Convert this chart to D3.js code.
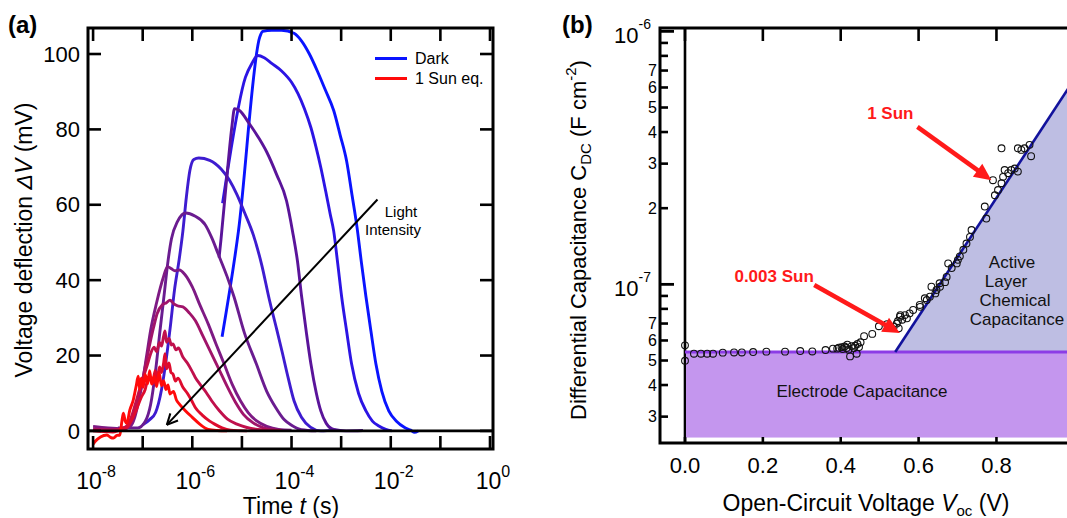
<!DOCTYPE html>
<html>
<head>
<meta charset="utf-8">
<script src="https://cdn.jsdelivr.net/npm/d3@7"></script>
<style>
  body { margin: 0; background: #fff; }
  svg { display: block; font-family: "Liberation Sans", Arial, sans-serif; }
</style>
</head>
<body>
<svg id="chart" width="1067" height="518"></svg>
<script>
// ---- (a) voltage transients: [log10 t (s), deltaV (mV)], dark first, then brighter ----
var traceDark = [[-5.40,25],[-5.07,53],[-4.64,104.5],[-4.58,106],[-4.40,106.3],[-4.20,106.3],[-3.95,105.5],[-3.80,103.5],[-3.64,100],[-3.48,95.5],[-3.32,90.5],[-3.15,85],[-3.02,78.5],[-2.89,71.6],[-2.78,62.5],[-2.68,54],[-2.59,44.5],[-2.50,35.6],[-2.40,26.5],[-2.30,17.8],[-2.18,10.5],[-2.04,5.3],[-1.88,2.5],[-1.72,0.9],[-1.60,0.2],[-1.52,-0.4],[-1.45,0]];
var traceB = [[-5.39,60.4],[-5.29,69],[-4.93,93.8],[-4.80,97.5],[-4.68,99.6],[-4.55,99],[-4.40,97.5],[-4.20,95.5],[-4.00,92.5],[-3.87,89.5],[-3.74,85.5],[-3.61,80.5],[-3.51,75.5],[-3.41,69.9],[-3.31,63.5],[-3.22,57.5],[-3.15,53],[-3.07,44.5],[-2.99,35.6],[-2.89,26.5],[-2.79,17.8],[-2.65,10],[-2.50,5.3],[-2.37,2.6],[-2.24,1.3],[-2.10,0.4],[-1.98,0]];
var traceC = [[-7.00,1.6],[-6.86,3],[-6.74,4.9],[-6.62,11],[-6.52,19.6],[-6.44,28],[-6.36,37.3],[-6.27,45],[-6.19,53],[-6.12,62],[-6.05,69],[-5.97,72],[-5.87,72.4],[-5.65,71.8],[-5.42,69.5],[-5.25,66.5],[-5.10,62.7],[-4.95,58],[-4.77,52],[-4.60,44],[-4.45,35],[-4.30,27],[-4.19,21],[-4.07,14.2],[-3.95,8],[-3.80,3.6],[-3.62,1],[-3.41,0],[-3.10,0.2]];
var traceD = [[-5.46,46],[-5.42,51],[-5.30,68],[-5.20,81],[-5.15,85.5],[-5.05,85],[-4.85,81.5],[-4.65,77.5],[-4.50,74],[-4.30,68],[-4.10,61],[-3.98,53],[-3.88,45],[-3.80,36],[-3.70,26],[-3.61,17.8],[-3.50,10],[-3.41,5.3],[-3.30,2],[-3.15,0.4],[-2.90,0],[-2.56,0.1]];
var traceE = [[-7.50,0.8],[-7.10,0.8],[-6.95,2.5],[-6.84,7],[-6.74,16],[-6.65,26.7],[-6.56,37],[-6.50,44],[-6.42,51],[-6.30,55.5],[-6.13,57.8],[-5.95,57],[-5.74,54.7],[-5.60,51],[-5.48,47],[-5.30,41],[-5.16,35.6],[-4.95,26],[-4.71,17.8],[-4.50,10.5],[-4.32,6.2],[-4.15,3],[-4.00,1.5],[-3.80,0.3],[-3.50,0]];
var traceF = [[-8.00,1.2],[-7.70,0.8],[-7.40,0.6],[-7.25,1.2],[-7.16,3.6],[-7.08,8],[-7.00,13.3],[-6.92,20],[-6.84,26.7],[-6.72,34],[-6.58,40.9],[-6.50,43.6],[-6.42,43],[-6.35,42.5],[-6.26,42.7],[-6.15,41.5],[-6.00,38.2],[-5.85,33.5],[-5.68,28.4],[-5.52,23],[-5.36,17.8],[-5.20,12.5],[-5.03,8],[-4.87,4.8],[-4.71,2.7],[-4.50,1.2],[-4.26,0.4],[-4.00,0.2]];
var traceG = [[-8.00,0.5],[-7.60,0.3],[-7.35,0.5],[-7.19,3.6],[-7.10,7.5],[-7.03,11.6],[-6.95,17],[-6.87,22.2],[-6.78,27.5],[-6.71,31.1],[-6.60,33.5],[-6.52,34],[-6.45,34.7],[-6.38,33.8],[-6.30,33.2],[-6.19,32.9],[-6.06,31.3],[-5.94,29.3],[-5.78,25],[-5.61,20.4],[-5.45,16],[-5.29,11.6],[-5.13,7.6],[-4.97,4.4],[-4.78,2.2],[-4.58,0.9],[-4.30,0.2]];
var traceH = [[-8.00,0.2],[-7.60,0.2],[-7.35,1],[-7.23,3.6],[-7.15,7],[-7.07,10.7],[-6.98,14.5],[-6.90,17.8],[-6.84,20.5],[-6.77,22.2],[-6.72,21],[-6.66,23.5],[-6.62,22.5],[-6.58,25],[-6.55,26.5],[-6.52,23.5],[-6.47,24.5],[-6.42,22.8],[-6.39,23.1],[-6.33,21.5],[-6.28,22],[-6.19,19.6],[-6.10,18],[-6.02,16.2],[-5.94,14.2],[-5.84,12.3],[-5.72,10.2],[-5.61,8],[-5.45,5.3],[-5.29,3.1],[-5.10,1.8],[-4.90,0.9],[-4.60,0.3],[-4.20,0.1]];
var traceI = [[-8.00,0],[-7.60,-0.3],[-7.40,0.5],[-7.30,1.2],[-7.23,2.7],[-7.13,5.5],[-7.03,8.9],[-6.95,11],[-6.90,13.5],[-6.84,14.2],[-6.80,12.5],[-6.75,16],[-6.71,14],[-6.66,17],[-6.62,15.5],[-6.58,17.8],[-6.55,20.5],[-6.52,16.5],[-6.47,18],[-6.43,15.5],[-6.39,15.1],[-6.34,13.2],[-6.29,14],[-6.19,11.6],[-6.10,10],[-6.02,8.2],[-5.94,6.2],[-5.80,4.2],[-5.65,2.6],[-5.55,1.8],[-5.40,0.8],[-5.23,0.2],[-4.90,0]];
var traceSun = [[-8.00,-3.5],[-7.96,-2.8],[-7.85,-1.6],[-7.72,-1.1],[-7.65,-1.7],[-7.59,-1.9],[-7.52,-1.2],[-7.46,-1.1],[-7.42,2.5],[-7.39,4.7],[-7.35,2.5],[-7.32,2],[-7.26,5.5],[-7.19,8.2],[-7.13,12],[-7.09,14.5],[-7.06,11],[-7.03,14],[-6.99,11.6],[-6.95,15],[-6.90,12.5],[-6.86,16],[-6.82,12.4],[-6.77,14.5],[-6.72,11.8],[-6.67,15.5],[-6.62,12],[-6.58,13.3],[-6.53,11],[-6.49,12.2],[-6.45,9.8],[-6.38,10.5],[-6.32,8.2],[-6.26,7.1],[-6.15,5.5],[-6.00,3.6],[-5.85,1.8],[-5.68,0.4],[-5.50,0.1],[-5.30,0]];

var traces = [traceDark, traceB, traceC, traceD, traceE, traceF, traceG, traceH, traceI, traceSun];
var traceColors = ['#0a14ff', '#2c14e4', '#3e1cd0', '#5a149a', '#6a1c90', '#7e1a84', '#a0146a', '#c0104c', '#de0c2e', '#ff0a0a'];
var legendNames = ['Dark', '1 Sun eq.'];

var timeTicks = [1e-8, 1e-7, 1e-6, 1e-5, 1e-4, 1e-3, 1e-2, 1e-1, 1];
var timeLabelled = [1e-8, 1e-6, 1e-4, 1e-2, 1];
var mvTicks = [0, 20, 40, 60, 80, 100];

// ---- (b) capacitance vs Voc ----
var voc = [0.000,0.000,0.023,0.041,0.057,0.072,0.097,0.126,0.146,0.175,0.209,0.257,0.296,0.327,0.361,0.380,0.391,0.395,0.402,0.405,0.410,0.415,0.417,0.420,0.424,0.428,0.434,0.437,0.441,0.443,0.447,0.451,0.460,0.481,0.498,0.519,0.536,0.544,0.547,0.549,0.552,0.553,0.558,0.565,0.570,0.577,0.586,0.603,0.604,0.616,0.621,0.629,0.633,0.643,0.646,0.654,0.655,0.668,0.672,0.676,0.685,0.698,0.701,0.706,0.715,0.723,0.732,0.736,0.770,0.774,0.791,0.796,0.804,0.813,0.817,0.821,0.830,0.838,0.847,0.855,0.813,0.855,0.864,0.872,0.885,0.889];
var cap = [5.74e-8,4.99e-8,5.32e-8,5.32e-8,5.32e-8,5.32e-8,5.37e-8,5.38e-8,5.38e-8,5.40e-8,5.42e-8,5.42e-8,5.45e-8,5.43e-8,5.50e-8,5.57e-8,5.57e-8,5.62e-8,5.64e-8,5.55e-8,5.68e-8,5.60e-8,5.78e-8,5.52e-8,5.19e-8,5.70e-8,5.60e-8,5.72e-8,5.32e-8,5.81e-8,5.65e-8,5.90e-8,6.24e-8,6.37e-8,6.83e-8,6.96e-8,6.80e-8,7.00e-8,7.16e-8,6.70e-8,7.45e-8,7.56e-8,7.25e-8,7.56e-8,7.34e-8,7.68e-8,7.92e-8,8.29e-8,8.15e-8,8.81e-8,8.67e-8,8.94e-8,9.79e-8,9.21e-8,9.50e-8,1.01e-7,9.78e-8,1.02e-7,1.07e-7,1.21e-7,1.16e-7,1.21e-7,1.25e-7,1.29e-7,1.37e-7,1.45e-7,1.54e-7,1.64e-7,2.03e-7,1.82e-7,2.58e-7,2.25e-7,2.36e-7,2.51e-7,2.66e-7,2.83e-7,2.75e-7,2.83e-7,2.87e-7,2.79e-7,3.45e-7,3.45e-7,3.40e-7,3.45e-7,3.56e-7,3.21e-7];

var electrodeCap = 5.4e-8;        // flat geometric capacitance
var electrodeFloor = 2.48e-8;     // bottom of shaded band
var activeLine = [[0.54, 5.4e-8], [1.03, 7.6e-7]];  // chemical capacitance fit
var vocTicks = [0, 0.2, 0.4, 0.6, 0.8, 1.0];
var vocLabels = ['0.0', '0.2', '0.4', '0.6', '0.8'];
var capMajor = [1e-7, 1e-6];
var capMinor = [3e-8,4e-8,5e-8,6e-8,7e-8,8e-8,9e-8,2e-7,3e-7,4e-7,5e-7,6e-7,7e-7,8e-7,9e-7];
var capMinorText = ['3','4','5','6','7','','','2','3','4','5','6','7','',''];

var svg = d3.select('#chart');
svg.append('rect').attr('width', 1067).attr('height', 518).attr('fill', '#fff');

function tenPow(sel, exp, big, small, raise) {
  sel.append('tspan').attr('font-size', big).text('10');
  sel.append('tspan').attr('font-size', small).attr('dy', -raise).text(exp);
}

function redArrow(g, x1, y1, x2, y2) {
  var a = Math.atan2(y2 - y1, x2 - x1);
  var len = 17, half = 8;
  var bx = x2 - len * Math.cos(a), by = y2 - len * Math.sin(a);
  g.append('line')
    .attr('x1', x1).attr('y1', y1).attr('x2', bx + 2 * Math.cos(a)).attr('y2', by + 2 * Math.sin(a))
    .attr('stroke', '#ff1a1a').attr('stroke-width', 4.5);
  g.append('path')
    .attr('d', 'M' + x2 + ',' + y2 +
      'L' + (bx + half * Math.sin(a)) + ',' + (by - half * Math.cos(a)) +
      'L' + (bx - half * Math.sin(a)) + ',' + (by + half * Math.cos(a)) + 'Z')
    .attr('fill', '#ff1a1a');
}

// ================= PANEL (a) =================
var xa = d3.scaleLog().domain([7.9e-9, 1.15]).range([88, 493]);
var ya = d3.scaleLinear().domain([-4.8, 106.9]).range([449, 28]);
var ga = svg.append('g');

var lineA = d3.line()
  .x(function(d) { return xa(Math.pow(10, d[0])); })
  .y(function(d) { return ya(d[1]); })
  .curve(d3.curveMonotoneX);

traces.forEach(function(tr, i) {
  ga.append('path')
    .datum(tr)
    .attr('d', lineA)
    .attr('fill', 'none')
    .attr('stroke', traceColors[i])
    .attr('stroke-width', 2.9)
    .attr('stroke-linejoin', 'round');
});

// zero line + frame
ga.append('line')
  .attr('x1', xa.range()[0]).attr('x2', xa.range()[1])
  .attr('y1', ya(0)).attr('y2', ya(0))
  .attr('stroke', '#000').attr('stroke-width', 2.6);
ga.append('rect')
  .attr('x', xa.range()[0]).attr('y', ya.range()[1])
  .attr('width', xa.range()[1] - xa.range()[0])
  .attr('height', ya.range()[0] - ya.range()[1])
  .attr('fill', 'none').attr('stroke', '#000').attr('stroke-width', 3);

timeTicks.forEach(function(t) {
  var px = xa(t);
  ga.append('line').attr('x1', px).attr('x2', px)
    .attr('y1', ya.range()[0]).attr('y2', ya.range()[0] - 13)
    .attr('stroke', '#000').attr('stroke-width', 2.6);
  ga.append('line').attr('x1', px).attr('x2', px)
    .attr('y1', ya.range()[1]).attr('y2', ya.range()[1] + 13)
    .attr('stroke', '#000').attr('stroke-width', 2.6);
});

timeLabelled.forEach(function(t) {
  var lbl = ga.append('text')
    .attr('x', xa(t) + 3).attr('y', 489)
    .attr('text-anchor', 'middle');
  tenPow(lbl, Math.round(Math.log10(t)), 23, 16, 12);
});

mvTicks.forEach(function(v) {
  var py = ya(v);
  ga.append('line').attr('x1', xa.range()[0]).attr('x2', xa.range()[0] + 13)
    .attr('y1', py).attr('y2', py).attr('stroke', '#000').attr('stroke-width', 2.6);
  ga.append('line').attr('x1', xa.range()[1]).attr('x2', xa.range()[1] - 13)
    .attr('y1', py).attr('y2', py).attr('stroke', '#000').attr('stroke-width', 2.6);
  ga.append('text')
    .attr('x', 80).attr('y', py).attr('dy', '0.35em')
    .attr('text-anchor', 'end').attr('font-size', 22)
    .text(v);
});

// legend
[0, 1].forEach(function(i) {
  var ly = 58.5 + i * 20;
  ga.append('line').attr('x1', 375).attr('x2', 407).attr('y1', ly).attr('y2', ly)
    .attr('stroke', i === 0 ? traceColors[0] : traceColors[9]).attr('stroke-width', 3);
  ga.append('text').attr('x', 415).attr('y', ly).attr('dy', '0.36em')
    .attr('font-size', 16).text(legendNames[i]);
});

// light intensity arrow
var arFrom = [xa(5.4e-3), ya(61.4)], arTo = [xa(3.06e-7), ya(1.6)];
ga.append('line')
  .attr('x1', arFrom[0]).attr('y1', arFrom[1]).attr('x2', arTo[0]).attr('y2', arTo[1])
  .attr('stroke', '#000').attr('stroke-width', 2);
(function() {
  var a = Math.atan2(arTo[1] - arFrom[1], arTo[0] - arFrom[0]);
  var l = 12;
  [0.45, -0.45].forEach(function(s) {
    ga.append('line')
      .attr('x1', arTo[0]).attr('y1', arTo[1])
      .attr('x2', arTo[0] - l * Math.cos(a + s)).attr('y2', arTo[1] - l * Math.sin(a + s))
      .attr('stroke', '#000').attr('stroke-width', 2);
  });
})();
ga.append('text').attr('x', 401).attr('y', 217).attr('text-anchor', 'middle')
  .attr('font-size', 15).text('Light');
ga.append('text').attr('x', 393).attr('y', 235).attr('text-anchor', 'middle')
  .attr('font-size', 15).text('Intensity');

// axis titles
var ta = ga.append('text')
  .attr('transform', 'translate(32,240) rotate(-90)')
  .attr('text-anchor', 'middle').attr('font-size', 23);
ta.append('tspan').text('Voltage deflection ');
ta.append('tspan').attr('font-style', 'italic').text('\u0394V');
ta.append('tspan').text(' (mV)');

var tx = ga.append('text')
  .attr('x', 291).attr('y', 514)
  .attr('text-anchor', 'middle').attr('font-size', 23);
tx.append('tspan').text('Time ');
tx.append('tspan').attr('font-style', 'italic').text('t');
tx.append('tspan').text(' (s)');

ga.append('text').attr('x', 8).attr('y', 33)
  .attr('font-size', 24).attr('font-weight', 'bold').text('(a)');

// ================= PANEL (b) =================
var xb = d3.scaleLinear().domain([-0.0642, 1.03]).range([660, 1086]);
var yb = d3.scaleLog().domain([2.36e-8, 1.031e-6]).range([443, 28]);
var gb = svg.append('g');

// V = 0 line
gb.append('line')
  .attr('x1', xb(0)).attr('x2', xb(0))
  .attr('y1', yb.range()[1]).attr('y2', yb.range()[0])
  .attr('stroke', '#000').attr('stroke-width', 2.6);

// electrode capacitance band
gb.append('rect')
  .attr('x', xb(0) + 1)
  .attr('y', yb(electrodeCap))
  .attr('width', xb(1.03) - xb(0))
  .attr('height', yb(electrodeFloor) - yb(electrodeCap))
  .attr('fill', '#c496ee');

// active layer chemical capacitance region
var areaB = d3.area()
  .x(function(d) { return xb(d[0]); })
  .y0(yb(electrodeCap))
  .y1(function(d) { return yb(d[1]); });
gb.append('path').datum(activeLine).attr('d', areaB).attr('fill', '#bebee3');

gb.append('line')
  .attr('x1', xb(0)).attr('x2', xb(1.03))
  .attr('y1', yb(electrodeCap)).attr('y2', yb(electrodeCap))
  .attr('stroke', '#8c3ce6').attr('stroke-width', 3);

var lineB = d3.line()
  .x(function(d) { return xb(d[0]); })
  .y(function(d) { return yb(d[1]); });
gb.append('path').datum(activeLine).attr('d', lineB)
  .attr('fill', 'none').attr('stroke', '#12129c').attr('stroke-width', 2.6);

// data points
gb.append('g')
  .selectAll('circle')
  .data(voc.map(function(v, i) { return [v, cap[i]]; }))
  .join('circle')
  .attr('cx', function(d) { return xb(d[0]); })
  .attr('cy', function(d) { return yb(d[1]); })
  .attr('r', 3.4)
  .attr('fill', 'none')
  .attr('stroke', '#111')
  .attr('stroke-width', 1.1);

// frame (right side is off the picture)
gb.append('path')
  .attr('d', 'M' + xb.range()[1] + ',' + yb.range()[1] +
    'H' + xb.range()[0] + 'V' + yb.range()[0] + 'H' + xb.range()[1])
  .attr('fill', 'none').attr('stroke', '#000').attr('stroke-width', 3);

vocTicks.forEach(function(v, i) {
  var px = xb(v);
  gb.append('line').attr('x1', px).attr('x2', px)
    .attr('y1', yb.range()[1]).attr('y2', yb.range()[1] + 13)
    .attr('stroke', '#000').attr('stroke-width', 2.6);
  gb.append('line').attr('x1', px).attr('x2', px)
    .attr('y1', yb.range()[0]).attr('y2', yb.range()[0] - 6)
    .attr('stroke', '#000').attr('stroke-width', 2.6);
  if (vocLabels[i]) {
    gb.append('text').attr('x', px).attr('y', 473)
      .attr('text-anchor', 'middle').attr('font-size', 22).text(vocLabels[i]);
  }
});

capMajor.forEach(function(c) {
  var py = yb(c);
  gb.append('line').attr('x1', xb.range()[0]).attr('x2', xb.range()[0] + 14)
    .attr('y1', py).attr('y2', py).attr('stroke', '#000').attr('stroke-width', 2.8);
  var lbl = gb.append('text')
    .attr('x', 651).attr('y', py + 12)
    .attr('text-anchor', 'end');
  tenPow(lbl, Math.round(Math.log10(c)), 22, 14, 14);
});

capMinor.forEach(function(c, i) {
  var py = yb(c);
  gb.append('line').attr('x1', xb.range()[0]).attr('x2', xb.range()[0] + 8)
    .attr('y1', py).attr('y2', py).attr('stroke', '#000').attr('stroke-width', 2.6);
  if (capMinorText[i]) {
    gb.append('text').attr('x', 657).attr('y', py).attr('dy', '0.36em')
      .attr('text-anchor', 'end').attr('font-size', 16).text(capMinorText[i]);
  }
});

// annotations
redArrow(gb, xb(0.597), yb(4.19e-7), xb(0.787), yb(2.58e-7));
redArrow(gb, xb(0.332), yb(9.94e-8), xb(0.552), yb(6.42e-8));
gb.append('text').attr('x', xb(0.468)).attr('y', yb(4.5e-7))
  .attr('font-size', 17).attr('font-weight', 'bold').attr('fill', '#ff1a1a').text('1 Sun');
gb.append('text').attr('x', xb(0.127)).attr('y', yb(1.02e-7))
  .attr('font-size', 17).attr('font-weight', 'bold').attr('fill', '#ff1a1a').text('0.003 Sun');

var activeText = ['Active', 'Layer', 'Chemical', 'Capacitance'];
var activeX = [1012, 1006, 1015, 1017];
activeText.forEach(function(s, i) {
  gb.append('text').attr('x', activeX[i]).attr('y', 268 + i * 19)
    .attr('text-anchor', 'middle').attr('font-size', 17).attr('fill', '#111').text(s);
});
gb.append('text').attr('x', 862).attr('y', 397)
  .attr('text-anchor', 'middle').attr('font-size', 17).attr('fill', '#111')
  .text('Electrode Capacitance');

// axis titles
var tyb = gb.append('text')
  .attr('transform', 'translate(586,240) rotate(-90)')
  .attr('text-anchor', 'middle').attr('font-size', 22);
tyb.append('tspan').text('Differential Capacitance C');
tyb.append('tspan').attr('font-size', 15).attr('dy', 5).text('DC');
tyb.append('tspan').attr('dy', -5).text(' (F cm');
tyb.append('tspan').attr('font-size', 15).attr('dy', -10).text('-2');
tyb.append('tspan').attr('dy', 10).text(')');

var txb = gb.append('text')
  .attr('x', 866).attr('y', 511)
  .attr('text-anchor', 'middle').attr('font-size', 23);
txb.append('tspan').text('Open-Circuit Voltage ');
txb.append('tspan').attr('font-style', 'italic').text('V');
txb.append('tspan').attr('font-size', 15).attr('dy', 5).text('oc');
txb.append('tspan').attr('dy', -5).text(' (V)');

gb.append('text').attr('x', 562).attr('y', 33)
  .attr('font-size', 24).attr('font-weight', 'bold').text('(b)');
</script>
</body>
</html>
